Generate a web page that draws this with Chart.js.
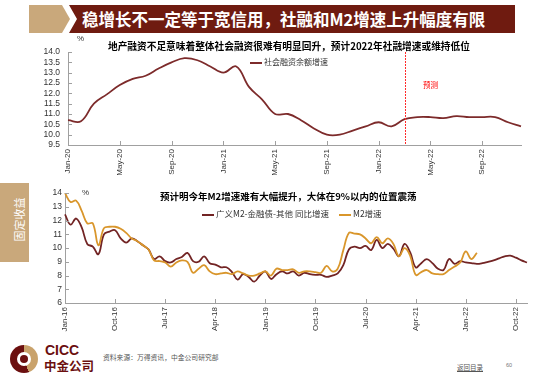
<!DOCTYPE html>
<html>
<head>
<meta charset="utf-8">
<script src="https://cdn.jsdelivr.net/npm/chart.js@4.4.1/dist/chart.umd.min.js"></script>
<style>
    body { margin: 0; width: 550px; height: 384px; position: relative; overflow: hidden; background: #fff;
           font-family: "Noto Sans CJK SC", "Liberation Sans", sans-serif; }
    .abs { position: absolute; white-space: nowrap; }
    canvas { position: absolute; left: 0; }
    .legLine { display: inline-block; width: 12px; height: 2px; vertical-align: middle; margin-right: 2px; }
</style>
</head>
<body>

<!-- header -->
<div class="abs" style="left:29px;top:5px;width:41px;height:28px;background:#c9a87b;clip-path:polygon(0 0,33px 0,41px 14px,33px 28px,0 28px)"></div>
<div class="abs" style="left:69px;top:5px;width:446px;height:28px;background:#6f1b10;clip-path:polygon(0 0,100% 0,100% 100%,0 100%,8px 14px)"></div>
<div class="abs" style="left:82px;top:5px;line-height:28px;color:#fff;font-size:16.5px;font-weight:bold">稳增长不一定等于宽信用，社融和M2增速上升幅度有限</div>

<!-- side tab -->
<div class="abs" style="left:0;top:183px;width:29px;height:79px;background:#c9a87b"></div>
<div class="abs" style="left:-4px;top:213px;width:46px;height:13px;line-height:13px;text-align:center;color:#fff;font-size:11px;transform:rotate(-90deg)">固定收益</div>

<canvas id="tsfChart" width="550" height="150" style="top:35px"></canvas>
<canvas id="m2Chart" width="550" height="155" style="top:185px"></canvas>

<!-- top chart texts -->
<div class="abs" style="left:77px;top:34px;font-size:8px;color:#333;font-family:'Liberation Sans'">%</div>
<div class="abs" style="left:108px;top:39px;font-size:9.7px;font-weight:bold;color:#000">地产融资不足意味着整体社会融资很难有明显回升，预计2022年社融增速或维持低位</div>
<div class="abs" style="left:250px;top:56px;font-size:8px;color:#333"><span class="legLine" style="background:#7d2b2b"></span>社会融资余额增速</div>
<div class="abs" style="left:423px;top:79px;font-size:7.5px;color:#ff0000">预测</div>

<!-- bottom chart texts -->
<div class="abs" style="left:82px;top:188px;font-size:8px;color:#333;font-family:'Liberation Sans'">%</div>
<div class="abs" style="left:160px;top:189px;font-size:9.5px;font-weight:bold;color:#000">预计明今年M2增速难有大幅提升，大体在9%以内的位置震荡</div>
<div class="abs" style="left:202px;top:207px;font-size:8.5px;color:#333"><span class="legLine" style="background:#722424"></span>广义M2-金融债-其他 同比增速</div>
<div class="abs" style="left:339px;top:207px;font-size:8.5px;color:#333"><span class="legLine" style="background:#d9962b"></span>M2增速</div>

<!-- footer -->
<div class="abs" style="left:10px;top:345px;width:28px;height:28px;border-radius:50%;background:conic-gradient(#c9a26b 0deg 160deg,#6b0f0f 160deg 360deg)"></div>
<div class="abs" style="left:17px;top:352px;width:14px;height:14px;border-radius:50%;background:#fff"></div>
<div class="abs" style="left:20px;top:355px;width:8px;height:8px;border-radius:50%;background:#6b0f0f"></div>
<div class="abs" style="left:45px;top:342px;font-size:14px;font-weight:bold;color:#6b0f0f;font-family:'Liberation Sans'">CICC</div>
<div class="abs" style="left:44px;top:356px;font-size:12.5px;font-weight:bold;color:#6b0f0f">中金公司</div>
<div class="abs" style="left:103px;top:352px;font-size:6.8px;color:#555">资料来源：万得资讯，中金公司研究部</div>
<div class="abs" style="left:457px;top:362px;font-size:6.5px;color:#555;text-decoration:underline">返回目录</div>
<div class="abs" style="left:506px;top:362px;font-size:5.5px;color:#777;font-family:'Liberation Sans'">60</div>

<script>
// ---- data ----
const MONTHS = ["Jan", "Feb", "Mar", "Apr", "May", "Jun", "Jul", "Aug", "Sep", "Oct", "Nov", "Dec"];
function monthLabels(startYear, count) {
    const out = [];
    for (let i = 0; i < count; i++) {
        out.push(MONTHS[i % 12] + "-" + String(startYear + Math.floor(i / 12)).slice(2));
    }
    return out;
}

// top chart: 社会融资余额增速, Jan-20 .. Dec-22
const tsfMonths = monthLabels(2020, 36);
const tsfGrowth = [
    10.7, 10.65, 11.5, 11.95, 12.4, 12.7, 12.85, 13.2, 13.5, 13.7, 13.6, 13.3,
    13.0, 13.3, 12.3, 11.7, 11.0, 11.0, 10.7, 10.3, 10.0, 10.0, 10.2, 10.4,
    10.6, 10.4, 10.75, 10.85, 10.85, 10.8, 10.9, 10.85, 10.85, 10.85, 10.6, 10.4
];
const tsfTickLabels = ["Jan-20", "May-20", "Sep-20", "Jan-21", "May-21", "Sep-21", "Jan-22", "May-22", "Sep-22"];
const tsfForecastFrom = "Mar-22";

// bottom chart: Jan-16 .. Dec-22
const m2Months = monthLabels(2016, 84);
const broadM2Growth = [
    12.45, 11.7, 12.15, 11.5, 10.3, 10.1, 9.55, 11.0, 11.2, 11.3, 10.7, 10.4,
    10.7, 10.5, 10.2, 9.9, 9.2, 9.4, 9.05, 8.95, 9.2, 9.35, 9.65, 9.05,
    9.0, 9.4, 8.9, 8.8, 8.6, 8.6, 8.25, 7.7, 8.1, 7.9, 7.55, 8.0,
    8.3, 7.75, 8.1, 8.3, 8.15, 8.3, 8.0, 8.2, 8.1, 8.05, 8.05, 7.9,
    8.0, 8.15, 8.75, 9.9, 10.1, 10.0, 10.15, 9.85, 10.6, 10.0, 10.3, 9.95,
    9.4, 10.3, 9.7, 8.6, 8.9, 9.2, 8.9, 8.5, 8.4, 9.2, 8.85, 9.05,
    8.95, 8.9, 8.85, 8.9, 9.0, 9.1, 9.25, 9.4, 9.45, 9.3, 9.1, 8.95
];
const m2Growth = [
    14.0, 13.35, 13.45, 12.7, 11.8, 11.8, 10.2, 11.45, 11.55, 11.55, 11.4, 11.1,
    10.7, 10.5, 10.2, 9.9, 9.1, 9.05, 8.95, 8.65, 8.95, 9.1, 9.0, 8.2,
    8.5, 8.75, 8.3, 8.1, 8.15, 8.2, 8.1, 8.3, 8.15, 8.0, 8.0, 8.15,
    8.3, 8.0, 8.5, 8.4, 8.4, 8.45, 8.2, 8.3, 8.3, 8.25, 8.2, 8.7,
    8.3, 8.5, 9.85, 11.1, 11.05, 11.0, 10.7, 10.35, 10.8, 10.35, 10.7, 10.3,
    9.4, 10.0, 9.45, 8.05, 8.25, 8.4, 8.15, 8.1, 8.1, 8.4, 8.65, 8.95,
    9.75, 9.2, 9.65
];
const m2TickLabels = ["Jan-16", "Oct-16", "Jul-17", "Apr-18", "Jan-19", "Oct-19", "Jul-20", "Apr-21", "Jan-22", "Oct-22"];

// ---- plugins ----
// small tick marks drawn inside the plot, Excel style
const innerTicks = {
    id: "innerTicks",
    afterDraw(chart, args, opts) {
        const { ctx, chartArea, scales: { x, y } } = chart;
        ctx.save();
        ctx.strokeStyle = opts.color;
        ctx.lineWidth = 1;
        ctx.beginPath();
        x.ticks.forEach((t, i) => {
            if (!opts.xLabels.includes(x.getLabelForValue(t.value))) return;
            const px = Math.round(x.getPixelForTick(i)) + 0.5;
            ctx.moveTo(px, chartArea.bottom);
            ctx.lineTo(px, chartArea.bottom - 4);
        });
        y.ticks.forEach((t, i) => {
            const py = Math.round(y.getPixelForTick(i)) + 0.5;
            ctx.moveTo(chartArea.left, py);
            ctx.lineTo(chartArea.left + 4, py);
        });
        ctx.stroke();
        ctx.restore();
    },
};

// red dotted line where the forecast starts
const forecastLine = {
    id: "forecastLine",
    afterDatasetsDraw(chart, args, opts) {
        if (!opts.label) return;
        const { ctx, chartArea, scales: { x } } = chart;
        const px = Math.round(x.getPixelForValue(x.getLabels().indexOf(opts.label))) + 0.5;
        ctx.save();
        ctx.strokeStyle = "#ff2a2a";
        ctx.lineWidth = 1;
        ctx.setLineDash([2, 1]);
        ctx.beginPath();
        ctx.moveTo(px, chartArea.top);
        ctx.lineTo(px, chartArea.bottom);
        ctx.stroke();
        ctx.restore();
    },
};

function baseOptions(cfg) {
    return {
        responsive: false,
        animation: false,
        layout: { padding: { top: cfg.padTop, right: cfg.padRight, left: 0, bottom: 0 } },
        plugins: {
            legend: { display: false },
            tooltip: { enabled: false },
            innerTicks: { color: "#a0a0a0", xLabels: cfg.tickLabels },
            forecastLine: { label: cfg.forecast || null },
        },
        elements: { point: { radius: 0 }, line: { tension: 0.4, borderWidth: 1.8 } },
        scales: {
            x: {
                offset: false,
                grid: { display: false, drawTicks: false },
                border: { display: true, color: "#a0a0a0" },
                ticks: {
                    autoSkip: false,
                    minRotation: 90,
                    maxRotation: 90,
                    padding: 4,
                    color: "#333",
                    font: { family: "Liberation Sans", size: 8 },
                    callback(v) {
                        const l = this.getLabelForValue(v);
                        return cfg.tickLabels.includes(l) ? l : "";
                    },
                },
                afterFit(scale) { scale.height = cfg.xHeight; },
            },
            y: {
                min: cfg.yMin,
                max: cfg.yMax,
                grid: { display: false, drawTicks: false },
                border: { display: true, color: "#a0a0a0" },
                ticks: {
                    autoSkip: false,
                    stepSize: cfg.yStep,
                    padding: cfg.yPad,
                    color: "#333",
                    font: { family: "Liberation Sans", size: 8.5 },
                    callback: cfg.yFormat,
                },
                afterFit(scale) { scale.width = cfg.yWidth; },
            },
        },
    };
}

new Chart(document.getElementById("tsfChart"), {
    type: "line",
    data: {
        labels: tsfMonths,
        datasets: [{ label: "社会融资余额增速", data: tsfGrowth, borderColor: "#7d2b2b" }],
    },
    options: baseOptions({
        padTop: 17, padRight: 29, xHeight: 40, yWidth: 68, yPad: 8,
        yMin: 9.5, yMax: 14, yStep: 0.5, yFormat: (v) => v.toFixed(1),
        tickLabels: tsfTickLabels, forecast: tsfForecastFrom,
    }),
    plugins: [innerTicks, forecastLine],
});

new Chart(document.getElementById("m2Chart"), {
    type: "line",
    data: {
        labels: m2Months,
        datasets: [
            { label: "M2增速", data: m2Growth, borderColor: "#d9962b" },
            { label: "广义M2-金融债-其他 同比增速", data: broadM2Growth, borderColor: "#722424" },
        ],
    },
    options: baseOptions({
        padTop: 8, padRight: 23, xHeight: 37, yWidth: 65, yPad: 3,
        yMin: 6, yMax: 14, yStep: 1, yFormat: (v) => v,
        tickLabels: m2TickLabels,
    }),
    plugins: [innerTicks, forecastLine],
});
</script>
</body>
</html>
